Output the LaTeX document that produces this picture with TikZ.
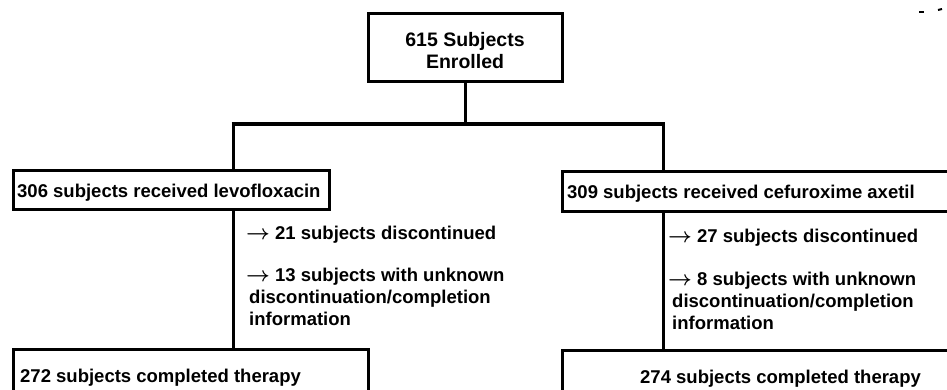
\documentclass[tikz,border=0pt]{standalone}
\usepackage{fontspec}
\setmainfont{Liberation Sans}
% heavy right arrow used in front of the loss counts
\newcommand{\lossarrow}{{\fontsize{21}{22}\selectfont\boldmath$\rightarrow$}}
\begin{document}
\begin{tikzpicture}[x=1pt,y=-1pt,
  frame/.style={draw=black, line width=3pt, inner sep=0pt},
  lbl/.style={font=\bfseries\fontsize{18.5}{22}\selectfont, inner sep=0pt, anchor=base west},
  link/.style={line width=3pt},
  trunk/.style={line width=4pt},
]
\clip (0,0) rectangle (947,390);

% enrolment box
\node[frame, minimum width=194pt, minimum height=68pt] (enrol) at (465,48) {};
\node[font=\bfseries\fontsize{19.5}{22}\selectfont, inner sep=0pt, anchor=base] (enrolA) at (465,47) {615 Subjects};
\node[font=\bfseries\fontsize{19.5}{22}\selectfont, inner sep=0pt, anchor=base] (enrolB) at (465,69) {Enrolled};

% treatment arms
\node[frame, minimum width=316pt, minimum height=38pt] (lev) at (171,190) {};
\node[lbl] (levT) at (17,197) {306 subjects received levofloxacin};
\node[frame, minimum width=403pt, minimum height=39pt] (cef) at (763.5,191.5) {};
\node[lbl] (cefT) at (567,198) {309 subjects received cefuroxime axetil};

% completion boxes
\node[frame, minimum width=355pt, minimum height=61pt] (levdone) at (190.5,379.5) {};
\node[lbl] (levdoneT) at (20,382) {272 subjects completed therapy};
\node[frame, minimum width=403pt, minimum height=60pt] (cefdone) at (763.5,380) {};
\node[lbl] (cefdoneT) at (640,383) {274 subjects completed therapy};

% losses, levofloxacin arm
\node[lbl] (levD) at (246,239) {\lossarrow\ 21 subjects discontinued};
\node[lbl] (levU1) at (246,281) {\lossarrow\ 13 subjects with unknown};
\node[lbl] (levU2) at (249,303) {discontinuation/completion};
\node[lbl] (levU3) at (249,325) {information};

% losses, cefuroxime arm
\node[lbl] (cefD) at (668,242) {\lossarrow\ 27 subjects discontinued};
\node[lbl] (cefU1) at (668,285) {\lossarrow\ 8 subjects with unknown};
\node[lbl] (cefU2) at (672,307) {discontinuation/completion};
\node[lbl] (cefU3) at (672,329) {information};

% branch points
\coordinate (jl) at (233,124);
\coordinate (jr) at (663,124);

% connectors
\draw[link] (enrol.south) -- (enrol.south |- jl);
\draw[trunk] ([xshift=-1.5pt]jl) -- ([xshift=1.5pt]jr);
\draw[link] (jl) -- (jl |- lev.north);
\draw[link] (jr) -- (jr |- cef.north);
\draw[link] (lev.south -| jl) -- (jl |- levdone.north);
\draw[link] (cef.south -| jr) -- (jr |- cefdone.north);

% specks in the upper right corner
\coordinate (s1) at (919,12);
\coordinate (s2) at (938,10);
\draw[line width=2pt] (s1) -- ++(5,0);
\draw[line width=2pt] (s2) -- ++(4,-1);
\end{tikzpicture}
\end{document}
